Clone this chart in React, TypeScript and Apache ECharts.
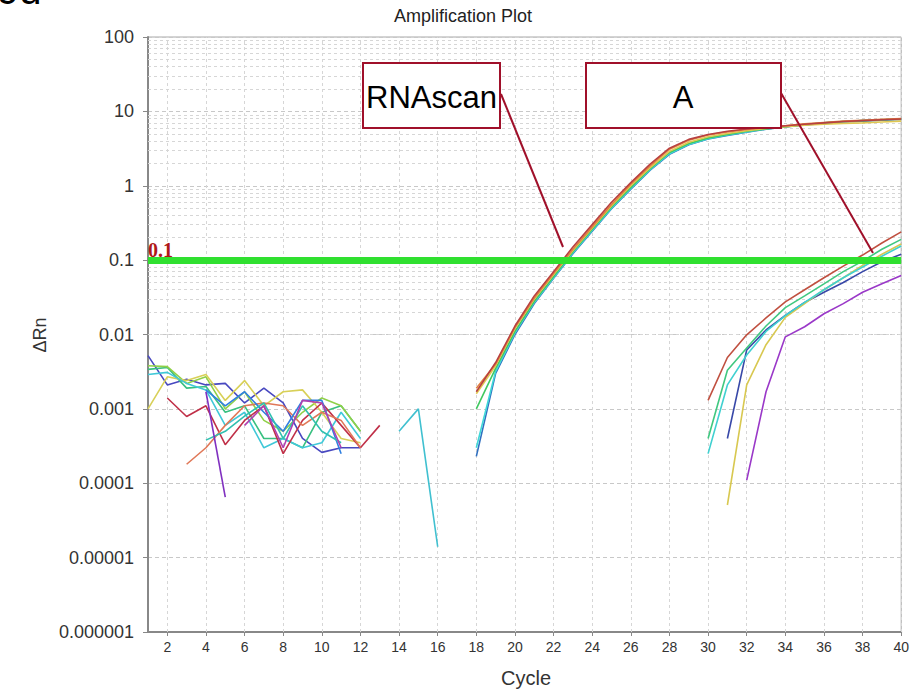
import React, { useEffect, useRef } from "react";
import * as echarts from "echarts";

// ---- axis ticks ----
const xTickValues = [2, 4, 6, 8, 10, 12, 14, 16, 18, 20, 22, 24, 26, 28, 30, 32, 34, 36, 38, 40];
const yTickTexts = ["0.000001", "0.00001", "0.0001", "0.001", "0.01", "0.1", "1", "10", "100"];
const yMinorMantissas = [2, 3, 4, 5, 6, 7, 8, 9];
const yDecadeExponents = [-6, -5, -4, -3, -2, -1, 0, 1];
const thresholdValue = 0.1;

// ---- baseline noise (cycles 1-16) ----
const cyc1to12 = [1, 2, 3, 4, 5, 6, 7, 8, 9, 10, 11, 12];
const baseIndigo = [0.0052, 0.0021, 0.0025, 0.0021, 0.0022, 0.0012, 0.0019, 0.0012, 0.0004, 0.00026, 0.0003, 0.0003];
const baseGreen = [0.0034, 0.0036, 0.0019, 0.002, 0.0009, 0.0011, 0.0004, 0.0004, 0.0003, 0.0009, 0.0011, 0.0005];
const baseLightGreen = [0.0038, 0.0037, 0.0022, 0.0027, 0.001, 0.0017, 0.0007, 0.0005, 0.0009, 0.0014, 0.0011, 0.0005];
const baseYellow = [0.001, 0.0027, 0.0024, 0.0029, 0.0013, 0.0024, 0.0011, 0.0017, 0.0018, 0.0009, 0.0004, 0.00035];
const baseCyan = [0.0029, 0.0031, 0.0022, 0.0018, 0.0006, 0.0009, 0.0003, 0.0004, 0.0003, 0.00035, 0.0009, 0.0004];
const cyc2to13 = [2, 3, 4, 5, 6, 7, 8, 9, 10, 11, 12, 13];
const baseRed = [0.0014, 0.00079, 0.0011, 0.00033, 0.0007, 0.0011, 0.00025, 0.0007, 0.0012, 0.0006, 0.0003, 0.0006];
const cyc3to12 = [3, 4, 5, 6, 7, 8, 9, 10, 11, 12];
const baseSalmon = [0.00018, 0.0003, 0.0006, 0.0011, 0.0012, 0.0011, 0.0006, 0.0009, 0.0007, 0.0003];
const cyc4to11 = [4, 5, 6, 7, 8, 9, 10, 11];
const baseBlue = [0.0018, 0.0011, 0.0017, 0.0009, 0.0005, 0.0013, 0.0013, 0.00025];
const baseTeal = [0.00038, 0.0005, 0.0008, 0.0012, 0.0004, 0.0011, 0.0005, 0.00035];
const cyc4to5 = [4, 5];
const basePurple = [0.0017, 0.000065];
const cyc6to11 = [6, 7, 8, 9, 10, 11];
const baseMagenta = [0.0006, 0.0011, 0.0003, 0.0013, 0.0012, 0.0003];
const cyc14to16 = [14, 15, 16];
const strayCyan = [0.0005, 0.001, 0.000014];

// ---- RNAscan amplification (cycles 18-40) ----
const earlyCycles = [18, 19, 20, 21, 22, 23, 24, 25, 26, 27, 28, 29, 30, 31, 32, 33, 34, 35, 36, 37, 38, 39, 40];
const earlyRed = [0.0017, 0.0042, 0.013, 0.033, 0.07, 0.15, 0.3, 0.6, 1.1, 1.95, 3.2, 4.2, 4.9, 5.4, 5.8, 6.1, 6.4, 6.7, 7.0, 7.3, 7.5, 7.7, 7.9];
const earlyOrange = [0.0019, 0.004, 0.0125, 0.031, 0.066, 0.14, 0.28, 0.56, 1.05, 1.85, 3.1, 4.1, 4.8, 5.3, 5.7, 6.1, 6.4, 6.8, 7.1, 7.4, 7.6, 7.8, 8.0];
const earlyGreen = [0.001, 0.0035, 0.011, 0.028, 0.06, 0.13, 0.26, 0.52, 0.95, 1.7, 2.8, 3.7, 4.4, 4.9, 5.4, 5.8, 6.2, 6.6, 7.0, 7.3, 7.5, 7.7, 7.9];
const earlyCyan = [0.0003, 0.0032, 0.0105, 0.027, 0.058, 0.125, 0.25, 0.5, 0.92, 1.65, 2.7, 3.6, 4.3, 4.8, 5.3, 5.8, 6.2, 6.6, 7.0, 7.3, 7.5, 7.7, 7.9];
const earlyBlue = [0.00023, 0.003, 0.01, 0.026, 0.057, 0.122, 0.245, 0.49, 0.9, 1.62, 2.65, 3.55, 4.25, 4.75, 5.25, 5.75, 6.15, 6.55, 6.9, 7.2, 7.4, 7.6, 7.8];
const earlyYellow = [0.0016, 0.0038, 0.012, 0.03, 0.064, 0.135, 0.27, 0.54, 1.0, 1.75, 2.9, 3.85, 4.55, 5.05, 5.5, 5.9, 6.2, 6.5, 6.7, 6.9, 7.0, 7.2, 7.4];

// ---- sample A amplification (cycles 30-40) ----
const lateCyc30 = [30, 31, 32, 33, 34, 35, 36, 37, 38, 39, 40];
const lateRed = [0.0013, 0.0049, 0.0099, 0.0167, 0.0275, 0.04, 0.058, 0.083, 0.117, 0.17, 0.24];
const lateGreen = [0.0004, 0.0033, 0.0066, 0.013, 0.023, 0.033, 0.048, 0.07, 0.097, 0.14, 0.19];
const lateCyan = [0.00025, 0.0021, 0.0053, 0.011, 0.018, 0.027, 0.04, 0.058, 0.081, 0.113, 0.155];
const lateCyc31 = [31, 32, 33, 34, 35, 36, 37, 38, 39, 40];
const lateYellow = [0.000051, 0.0021, 0.0073, 0.017, 0.026, 0.04, 0.058, 0.085, 0.12, 0.165];
const lateNavy = [0.0004, 0.0062, 0.0115, 0.018, 0.027, 0.037, 0.05, 0.07, 0.095, 0.12];
const lateCyc32 = [32, 33, 34, 35, 36, 37, 38, 39, 40];
const latePurple = [0.00011, 0.0017, 0.0093, 0.0127, 0.019, 0.026, 0.037, 0.048, 0.062];

const zip = (xs: number[], ys: number[]) => xs.map((x, i) => [x, ys[i]]);

const FONT = "'Liberation Sans', Arial, sans-serif";
const NARROW = "'Liberation Sans Narrow', 'Arial Narrow', 'Liberation Sans', sans-serif";

export default function App() {
  const ref = useRef<HTMLDivElement>(null);

  useEffect(() => {
    if (!ref.current) return;
    const chart = echarts.init(ref.current, undefined, { renderer: "svg" });

    const lineSeries = (name: string, color: string, xs: number[], ys: number[], extra: any = {}) => ({
      name,
      type: "line",
      data: zip(xs, ys),
      symbol: "none",
      showSymbol: false,
      lineStyle: { color, width: 1.6 },
      itemStyle: { color },
      z: 3,
      ...extra,
    });

    const minorLines: any[] = [];
    yDecadeExponents.forEach((e) =>
      yMinorMantissas.forEach((m) => minorLines.push({ yAxis: m * Math.pow(10, e) }))
    );
    const verticalLines = xTickValues.map((v) => ({ xAxis: v }));

    const series: any[] = [
      lineSeries("baseIndigo", "#4848c0", cyc1to12, baseIndigo, {
        markLine: {
          silent: true,
          symbol: ["none", "none"],
          z: 1,
          label: { show: false },
          lineStyle: { color: "#d6d6d6", type: [3, 3], width: 1 },
          emphasis: { disabled: true },
          data: [...minorLines, ...verticalLines],
        },
      }),
      lineSeries("baseGreen", "#38c080", cyc1to12, baseGreen),
      lineSeries("baseLightGreen", "#90d048", cyc1to12, baseLightGreen),
      lineSeries("baseYellow", "#d8d058", cyc1to12, baseYellow),
      lineSeries("baseCyan", "#40c8d8", cyc1to12, baseCyan),
      lineSeries("baseRed", "#c03048", cyc2to13, baseRed),
      lineSeries("baseSalmon", "#e07858", cyc3to12, baseSalmon),
      lineSeries("baseBlue", "#3080e0", cyc4to11, baseBlue),
      lineSeries("baseTeal", "#30c0b0", cyc4to11, baseTeal),
      lineSeries("basePurple", "#8030c0", cyc4to5, basePurple),
      lineSeries("baseMagenta", "#b040b0", cyc6to11, baseMagenta),
      lineSeries("strayCyan", "#40c0d0", cyc14to16, strayCyan),
      lineSeries("earlyBlue", "#3070c0", earlyCycles, earlyBlue),
      lineSeries("earlyCyan", "#40d8d8", earlyCycles, earlyCyan),
      lineSeries("earlyGreen", "#40c860", earlyCycles, earlyGreen),
      lineSeries("earlyYellow", "#e0c850", earlyCycles, earlyYellow),
      lineSeries("earlyOrange", "#e08040", earlyCycles, earlyOrange),
      lineSeries("earlyRed", "#b84040", earlyCycles, earlyRed),
      lineSeries("latePurple", "#9a38c8", lateCyc32, latePurple),
      lineSeries("lateNavy", "#3848a8", lateCyc31, lateNavy),
      lineSeries("lateYellow", "#d8c850", lateCyc31, lateYellow),
      lineSeries("lateCyan", "#40d0d0", lateCyc30, lateCyan),
      lineSeries("lateGreen", "#40c880", lateCyc30, lateGreen),
      lineSeries("lateRed", "#c05040", lateCyc30, lateRed, {
        markLine: {
          silent: true,
          symbol: ["none", "none"],
          z: 6,
          label: { show: false },
          lineStyle: { color: "#30e030", type: "solid", width: 7 },
          emphasis: { disabled: true },
          data: [{ yAxis: thresholdValue }],
        },
      }),
    ];

    const boxStroke = "#a0102a";
    chart.setOption({
      animation: false,
      backgroundColor: "#ffffff",
      grid: {
        left: 148,
        right: 7,
        top: 37,
        bottom: 58,
        show: true,
        borderColor: "#a8a8a8",
        borderWidth: 1,
        backgroundColor: "transparent",
      },
      xAxis: {
        type: "value",
        min: 1,
        max: 40,
        axisLine: { show: true, onZero: false, lineStyle: { color: "#888888", width: 2 } },
        axisTick: { show: true, customValues: xTickValues, length: 4, lineStyle: { color: "#888888" } },
        axisLabel: {
          customValues: xTickValues,
          fontSize: 14,
          fontFamily: NARROW,
          color: "#333333",
          margin: 8,
        },
        splitLine: { show: false },
      },
      yAxis: {
        type: "log",
        logBase: 10,
        min: 0.000001,
        max: 100,
        splitNumber: 8,
        axisLine: { show: true, lineStyle: { color: "#888888", width: 2 } },
        axisTick: { show: true, length: 5, lineStyle: { color: "#888888" } },
        axisLabel: {
          fontSize: 18,
          fontFamily: FONT,
          color: "#333333",
          margin: 14,
          formatter: (v: number) => yTickTexts[Math.round(Math.log10(v)) + 6] ?? "",
        },
        splitLine: { show: true, lineStyle: { color: "#c8c8c8", type: [4, 3], width: 1 } },
      },
      series,
      graphic: [
        {
          type: "text",
          x: -3,
          y: -10,
          z: 100,
          style: { text: "9d", font: `40px ${FONT}`, fill: "#000", verticalAlign: "middle" },
        },
        {
          type: "text",
          x: 463,
          y: 16,
          z: 100,
          style: {
            text: "Amplification Plot",
            font: `18px ${FONT}`,
            fill: "#222",
            align: "center",
            verticalAlign: "middle",
          },
        },
        {
          type: "text",
          x: 40,
          y: 335,
          rotation: Math.PI / 2,
          z: 100,
          style: { text: "ΔRn", font: `18px ${FONT}`, fill: "#333", align: "center", verticalAlign: "middle" },
        },
        {
          type: "text",
          x: 526,
          y: 678,
          z: 100,
          style: { text: "Cycle", font: `20px ${FONT}`, fill: "#333", align: "center", verticalAlign: "middle" },
        },
        {
          type: "text",
          x: 148,
          y: 250,
          z: 100,
          style: {
            text: "0.1",
            font: `bold 20px 'Liberation Serif', 'DejaVu Serif', serif`,
            fill: "#b01818",
            align: "left",
            verticalAlign: "middle",
          },
        },
        {
          type: "rect",
          z: 100,
          shape: { x: 363, y: 63, width: 137, height: 65 },
          style: { fill: "#ffffff", stroke: boxStroke, lineWidth: 2 },
        },
        {
          type: "text",
          x: 366,
          y: 97,
          z: 101,
          style: { text: "RNAscan", font: `31px ${FONT}`, fill: "#000", align: "left", verticalAlign: "middle" },
        },
        {
          type: "rect",
          z: 100,
          shape: { x: 586, y: 63, width: 195, height: 65 },
          style: { fill: "#ffffff", stroke: boxStroke, lineWidth: 2 },
        },
        {
          type: "text",
          x: 683,
          y: 97,
          z: 101,
          style: { text: "A", font: `31px ${FONT}`, fill: "#000", align: "center", verticalAlign: "middle" },
        },
        {
          type: "line",
          z: 102,
          shape: { x1: 501, y1: 94, x2: 563, y2: 247 },
          style: { stroke: boxStroke, lineWidth: 2 },
        },
        {
          type: "line",
          z: 102,
          shape: { x1: 781, y1: 93, x2: 873, y2: 253 },
          style: { stroke: boxStroke, lineWidth: 2 },
        },
      ],
    });

    return () => chart.dispose();
  }, []);

  return (
    <div
      ref={ref}
      style={{ position: "absolute", left: 0, top: 0, width: 912, height: 690, background: "#fff" }}
    />
  );
}
